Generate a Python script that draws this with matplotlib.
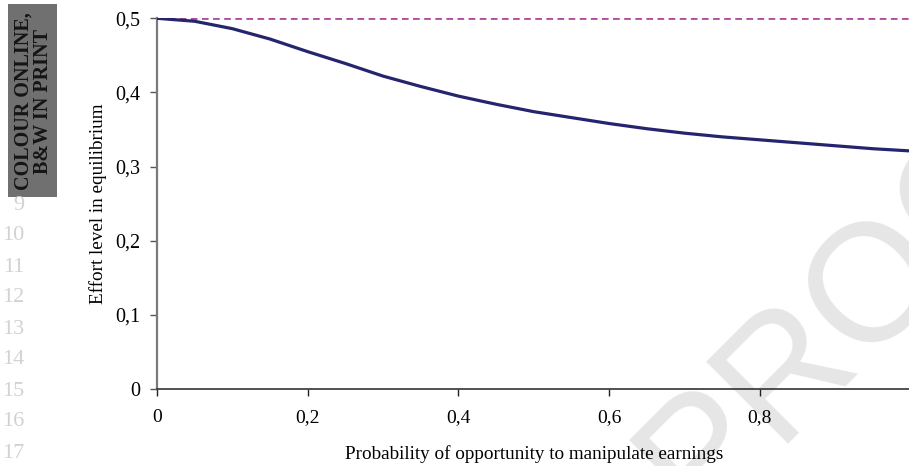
import matplotlib
matplotlib.use("Agg")
import matplotlib.pyplot as plt

# probability of opportunity to manipulate earnings vs equilibrium effort
prob = [0.0, 0.05, 0.1, 0.15, 0.2, 0.25, 0.3, 0.35, 0.4, 0.45, 0.5,
        0.55, 0.6, 0.65, 0.7, 0.75, 0.8, 0.85, 0.9, 0.95, 1.0]
effort = [0.500, 0.496, 0.486, 0.472, 0.455, 0.439, 0.422, 0.408, 0.395, 0.384, 0.374,
          0.366, 0.358, 0.351, 0.345, 0.340, 0.336, 0.332, 0.328, 0.324, 0.321]
no_manip_level = 0.5

xticks = [0, 0.2, 0.4, 0.6, 0.8]
xtick_labels = ["0", "0,2", "0,4", "0,6", "0,8"]
yticks = [0, 0.1, 0.2, 0.3, 0.4, 0.5]
ytick_labels = ["0", "0,1", "0,2", "0,3", "0,4", "0,5"]
line_numbers = ["9", "10", "11", "12", "13", "14", "15", "16", "17"]

plt.rcParams["font.family"] = ["Liberation Serif", "DejaVu Serif"]

W, H = 909, 466
fig = plt.figure(figsize=(W / 100, H / 100), dpi=100)

# proof watermark behind the plot
fig.text(876 / W, 1 - 282 / H, "PROOF", fontsize=120, color="#e6e6e6",
         family="Liberation Sans", rotation=45, ha="center", va="center",
         rotation_mode="anchor", zorder=-5)

ax = fig.add_axes([157 / W, 1 - 388.8 / H, 753.5 / W, 370.5 / H])
ax.patch.set_alpha(0)

ax.plot(prob, effort, color="#25256f", lw=2.3, solid_capstyle="round", zorder=3)
ax.axhline(no_manip_level, color="#b04d9d", lw=2.0, dashes=(2.4, 1.6), zorder=2)

ax.set_xlim(0, 1)
ax.set_ylim(0, 0.5)
ax.set_xticks(xticks)
ax.set_xticklabels(xtick_labels)
ax.set_yticks(yticks)
ax.set_yticklabels(ytick_labels)
ax.tick_params(axis="x", direction="out", length=5, width=1, pad=9.5,
               labelsize=14, color="#222222")
ax.tick_params(axis="y", direction="out", length=5, width=1, pad=7,
               labelsize=14.5, color="#555555")

for side in ["top", "right"]:
    ax.spines[side].set_visible(False)
ax.spines["left"].set_color("#7a7a7a")
ax.spines["left"].set_linewidth(1.6)
ax.spines["bottom"].set_color("#333333")
ax.spines["bottom"].set_linewidth(1.2)

ax.set_xlabel("Probability of opportunity to manipulate earnings", fontsize=13.8, labelpad=14)
ax.set_ylabel("Effort level in equilibrium", fontsize=13.8, labelpad=6)

# page line numbers in the margin
for i, num in enumerate(line_numbers):
    fig.text(24 / W, 1 - (205 + 31 * i) / H, num, fontsize=16, color="#d2d2d2",
             ha="right", va="center")

# colour note box
fig.patches.append(plt.Rectangle((8 / W, 1 - 197 / H), 49 / W, 193 / H,
                                 transform=fig.transFigure, facecolor="#707070",
                                 edgecolor="none", zorder=1))
fig.text(23.5 / W, 1 - 101 / H, "COLOUR ONLINE,", fontsize=14.5, fontweight="bold",
         color="#151515", rotation=90, ha="center", va="center", zorder=2)
fig.text(42.5 / W, 1 - 102 / H, "B&W IN PRINT", fontsize=14.5, fontweight="bold",
         color="#151515", rotation=90, ha="center", va="center", zorder=2)

fig.savefig("out.png", dpi=100)
